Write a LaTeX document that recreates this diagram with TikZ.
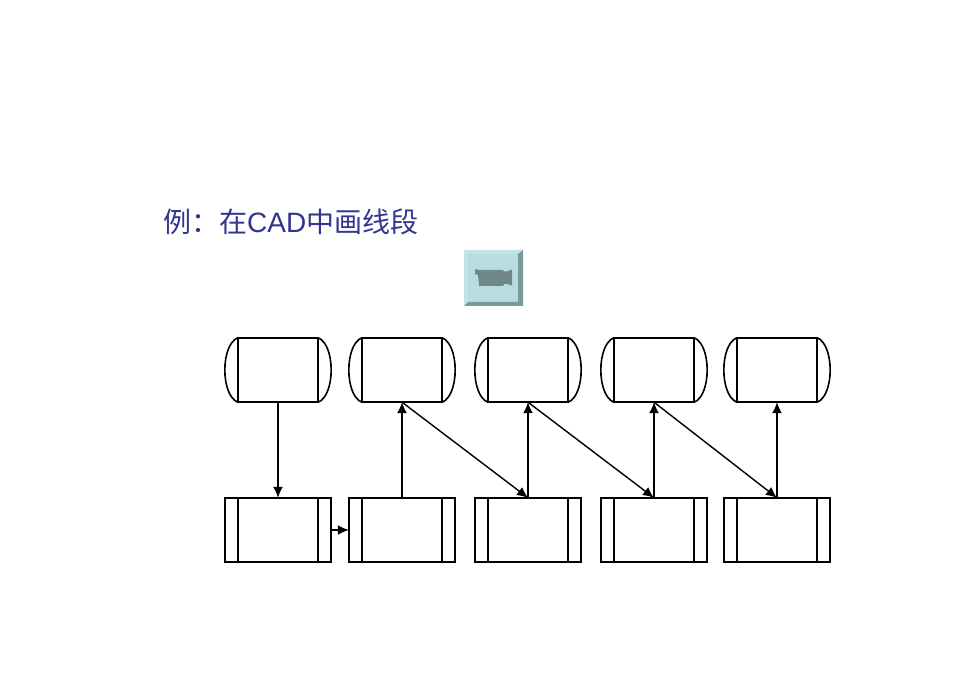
\documentclass[tikz,border=0pt]{standalone}
\usepackage{fontspec}
\setmainfont{Liberation Sans}
\newfontfamily\cjk{Noto Sans CJK SC}
\usetikzlibrary{calc, arrows.meta}
\definecolor{titleBlue}{RGB}{51,51,145}
\definecolor{btnFace}{RGB}{184,221,225}
\definecolor{btnLight}{RGB}{196,227,230}
\definecolor{btnDark}{RGB}{122,154,158}
\definecolor{camGrey}{RGB}{112,136,140}
\tikzset{
    cell/.style={rectangle, inner sep=0pt, minimum width=106pt, minimum height=64pt},
    cellLine/.style={line width=1.6pt, black},
    linkEdge/.style={-{Latex[length=11pt, width=10pt]}, line width=1.4pt},
}
\newcommand{\drawCurved}[1]{
    \draw[cellLine] ($(#1.north west)+(13,0)$) rectangle ($(#1.south east)+(-13,0)$);
    \draw[cellLine] ($(#1.north west)+(13,0)$) .. controls ($(#1.north west)+(-4.3,7)$) and ($(#1.south west)+(-4.3,-7)$) .. ($(#1.south west)+(13,0)$);
    \draw[cellLine] ($(#1.north east)+(-13,0)$) .. controls ($(#1.north east)+(4.3,7)$) and ($(#1.south east)+(4.3,-7)$) .. ($(#1.south east)+(-13,0)$);
}
\newcommand{\drawSquare}[1]{
    \draw[cellLine] (#1.north west) rectangle (#1.south east);
    \draw[cellLine] ($(#1.north west)+(13,0)$) -- ($(#1.south west)+(13,0)$);
    \draw[cellLine] ($(#1.north east)+(-13,0)$) -- ($(#1.south east)+(-13,0)$);
}
\begin{document}
\begin{tikzpicture}[x=1pt, y=-1pt]
    \useasboundingbox (0,0) rectangle (980,692);

    \node[anchor=west, inner sep=0pt, text=titleBlue, font=\fontsize{28}{28}\selectfont] (title) at (163,222) {{\cjk 例：在}CAD{\cjk 中画线段}};

    % button
    \fill[btnFace] (464,250) rectangle (523,306);
    \fill[btnLight] (464,250) -- (523,250) -- (518,254) -- (468,254) -- (468,302) -- (464,306) -- cycle;
    \fill[btnDark] (523,250) -- (523,306) -- (464,306) -- (468,302) -- (518,302) -- (518,254) -- cycle;
    \fill[camGrey] (475,269) -- (479,270) -- (503,270) -- (504,271.5) -- (507,271.5) -- (512,269.5) -- (512,285.5) -- (507,284) -- (504,284) -- (503,286) -- (479,286) -- (478,275) -- (475,274) -- cycle;

    \foreach \name/\xc in {t1/278, t2/402, t3/528, t4/654, t5/777} {
        \node[cell] (\name) at (\xc,370) {};
        \drawCurved{\name}
    }
    \foreach \name/\xc in {b1/278, b2/402, b3/528, b4/654, b5/777} {
        \node[cell] (\name) at (\xc,530) {};
        \drawSquare{\name}
    }

    \draw[linkEdge] (t1) -- (b1);
    \draw[linkEdge] (b1) -- (b2);
    \draw[linkEdge] (b2) -- (t2);
    \draw[linkEdge] (b3) -- (t3);
    \draw[linkEdge] (b4) -- (t4);
    \draw[linkEdge] (b5) -- (t5);
    \draw[linkEdge] (t2.south) -- (b3.north);
    \draw[linkEdge] (t3.south) -- (b4.north);
    \draw[linkEdge] (t4.south) -- (b5.north);
\end{tikzpicture}
\end{document}
